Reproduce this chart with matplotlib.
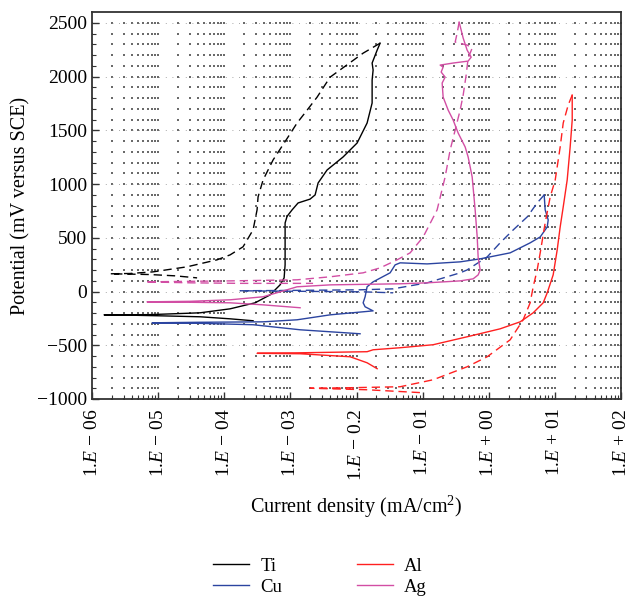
import matplotlib
matplotlib.use("Agg")
import matplotlib.pyplot as plt
import numpy as np

plt.rcParams["font.family"] = ["Liberation Serif", "DejaVu Serif"]
plt.rcParams["mathtext.fontset"] = "custom"
plt.rcParams["mathtext.rm"] = "Liberation Serif"
plt.rcParams["mathtext.it"] = "Liberation Serif:italic"

# polarisation scans: log10 of current density (mA/cm2) and potential (mV vs SCE)
# forward scan = solid, reverse scan = dashed
ti_fwd_logi = [-3.564, -3.912, -4.366, -4.971, -5.425, -5.818, -5.123, -4.366, -3.912, -3.534,
               -3.307, -3.156, -3.095, -3.080, -3.080, -3.080, -3.050, -2.974, -2.884, -2.702,
               -2.626, -2.581, -2.445, -2.203, -1.991, -1.840, -1.764, -1.764, -1.749, -1.764,
               -1.688, -1.643]
ti_fwd_mv = [-272, -254, -235, -226, -220, -217, -215, -198, -161, -105,
             -31, 62, 127, 248, 480, 638, 700, 760, 824, 860,
             899, 1010, 1131, 1252, 1382, 1568, 1754, 1968, 2061, 2126,
             2246, 2311]
ti_rev_logi = [-1.643, -1.900, -2.097, -2.399, -2.596, -2.747, -2.899, -3.035, -3.262, -3.413,
               -3.489, -3.504, -3.564, -3.716, -3.912, -4.109, -4.563, -5.077, -5.425, -5.728,
               -5.425, -5.123, -4.744, -4.411]
ti_rev_mv = [2311, 2218, 2130, 1995, 1809, 1688, 1568, 1438, 1224, 1038,
             880, 760, 574, 416, 341, 295, 230, 183, 168, 165,
             162, 158, 146, 127]

cu_fwd_logi = [-1.946, -2.853, -3.564, -4.366, -5.092, -4.366, -3.413, -2.899, -2.399, -1.749,
               -1.870, -1.900, -1.870, -1.840, -1.749, -1.492, -1.416, -1.340, -0.932, -0.433,
               -0.130, 0.324, 0.626, 0.778, 0.884, 0.899, 0.853, 0.838]
cu_fwd_mv = [-393, -356, -309, -296, -291, -286, -282, -263, -217, -180,
             -142, -105, -49, 44, 90, 174, 248, 267, 257, 276,
             304, 360, 453, 508, 601, 666, 760, 899]
cu_rev_logi = [0.838, 0.732, 0.581, 0.369, 0.172, -0.024, -0.327, -0.433, -0.932, -1.446,
               -1.946, -2.853, -3.761, -2.853, -1.900, -1.446]
cu_rev_mv = [899, 824, 694, 573, 453, 322, 201, 174, 81, 25,
             16, 11, 7, 2, -3, -12]

al_fwd_logi = [-1.688, -1.840, -2.097, -2.853, -3.504, -2.853, -1.840, -1.749, -1.340, -0.841,
               -0.327, 0.172, 0.475, 0.672, 0.823, 0.884, 0.974, 1.035, 1.080, 1.126,
               1.186, 1.231, 1.262, 1.262]
al_fwd_mv = [-718, -663, -607, -579, -575, -570, -560, -542, -523, -495,
             -421, -347, -282, -198, -105, -12, 155, 388, 601, 787,
             1038, 1345, 1596, 1828]
al_rev_logi = [1.262, 1.201, 1.126, 1.080, 1.005, 0.929, 0.853, 0.778, 0.732, 0.672,
               0.626, 0.520, 0.324, -0.024, -0.327, -0.841, -1.340, -2.097, -2.702, -1.840,
               -0.992]
al_rev_mv = [1828, 1735, 1568, 1345, 1038, 880, 638, 360, 201, 44,
             -105, -263, -449, -607, -700, -821, -886, -895, -900, -914,
             -942]

ag_fwd_logi = [-2.853, -3.413, -3.912, -4.517, -5.168, -4.517, -3.912, -3.413, -3.156, -2.899,
               -2.399, -1.340, -0.932, -0.433, -0.236, -0.160, -0.130, -0.160, -0.175, -0.206,
               -0.251, -0.312, -0.357, -0.463, -0.539, -0.614, -0.690, -0.705, -0.660, -0.720,
               -0.690, -0.735, -0.539, -0.312, -0.266, -0.327, -0.387, -0.448]
ag_fwd_mv = [-151, -124, -105, -100, -96, -91, -77, -49, -3, 44,
             62, 72, 81, 99, 118, 155, 201, 313, 508, 760,
             1066, 1252, 1345, 1475, 1596, 1688, 1809, 1940, 1995, 2042,
             2088, 2107, 2126, 2144, 2181, 2246, 2358, 2507]
ag_rev_logi = [-0.448, -0.478, -0.508, -0.327, -0.251, -0.312, -0.342, -0.387, -0.433, -0.508,
               -0.584, -0.660, -0.781, -0.992, -1.189, -1.386, -1.643, -1.900, -2.399, -2.899,
               -3.912, -4.517, -5.198, -4.517, -3.761, -2.657]
ag_rev_mv = [2507, 2405, 2321, 2293, 2265, 2172, 2014, 1828, 1688, 1503,
             1317, 1066, 760, 508, 360, 295, 220, 174, 137, 109,
             99, 95, 90, 81, 76, 76]

metals = ["Ti", "Cu", "Al", "Ag"]
colors = {"Ti": "#000000", "Cu": "#2b44a0", "Al": "#ff2020", "Ag": "#d24ea4"}
scans = {
    "Ti": (ti_fwd_logi, ti_fwd_mv, ti_rev_logi, ti_rev_mv),
    "Cu": (cu_fwd_logi, cu_fwd_mv, cu_rev_logi, cu_rev_mv),
    "Al": (al_fwd_logi, al_fwd_mv, al_rev_logi, al_rev_mv),
    "Ag": (ag_fwd_logi, ag_fwd_mv, ag_rev_logi, ag_rev_mv),
}

xtick_labels = ["1.$E$ − 06", "1.$E$ − 05", "1.$E$ − 04", "1.$E$ − 03", "1.$E$ − 0.2",
                "1.$E$ − 01", "1.$E$ + 00", "1.$E$ + 01", "1.$E$ + 02"]
xtick_pos = [1e-6, 1e-5, 1e-4, 1e-3, 1e-2, 1e-1, 1e0, 1e1, 1e2]

fig = plt.figure(figsize=(6.29, 6.05), dpi=100)
ax = fig.add_axes([0.1463, 0.3405, 0.841, 0.6395])
ax.set_xscale("log")
ax.set_xlim(1e-6, 1e2)
ax.set_ylim(-1000, 2600)

# dotted grid: dots at every log sub-decade and every 100 mV
gx = np.array([k * 10.0 ** n for n in range(-6, 2) for k in range(1, 10)] + [1e2])
gy = np.arange(-1000, 2600, 100)
GX, GY = np.meshgrid(gx, gy)
ax.scatter(GX.ravel(), GY.ravel(), s=0.7, marker="s", color="#6a6a6a", linewidths=0, zorder=1)
for yv in range(-1000, 2600, 500):
    ax.axhline(yv, color="#8a8a8a", lw=0.6, ls=(0, (1, 7)), zorder=1)

handles = []
for m in metals:
    fl, fm, rl, rm = scans[m]
    h, = ax.plot(10 ** np.array(fl), fm, color=colors[m], lw=1.0, zorder=3)
    ax.plot(10 ** np.array(rl), rm, color=colors[m], lw=1.0, ls=(0, (6, 3.5)), zorder=3)
    handles.append(h)

ax.set_xticks(xtick_pos)
ax.set_xticklabels(xtick_labels, rotation=90, fontsize=14)
ax.set_yticks(range(-1000, 2501, 500))
ax.set_yticks(range(-1000, 2600, 100), minor=True)
ax.tick_params(axis="y", labelsize=14)
ax.tick_params(which="both", direction="in", color="#333333")
ax.tick_params(which="major", length=5, width=1.0)
ax.tick_params(which="minor", length=3, width=0.8)
ax.tick_params(axis="x", pad=7)
for s in ax.spines.values():
    s.set_color("#333333")
    s.set_linewidth(1.3)

ax.set_xlabel("Current density (mA/cm$^2$)", fontsize=14.5, labelpad=9)
ax.set_ylabel("Potential (mV versus SCE)", fontsize=14.5, labelpad=5)

fig.legend(handles, metals, ncol=2, frameon=False, fontsize=13.5,
           loc="center left", bbox_to_anchor=(204 / 629, 0.047), borderpad=0,
           handlelength=1.9, columnspacing=4.0, labelspacing=0.2, handletextpad=0.6)

fig.savefig("out.png", dpi=100)
